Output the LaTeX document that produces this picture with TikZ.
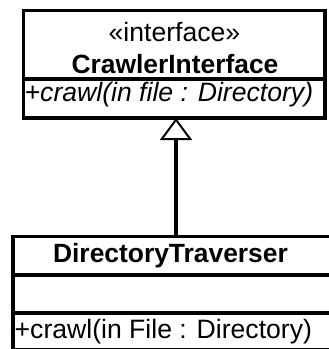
\documentclass[tikz,border=0pt]{standalone}
\usepackage{fontspec}
\setmainfont{Liberation Sans}
\usetikzlibrary{arrows.meta}
\begin{document}
\begin{tikzpicture}[x=1pt, y=-1pt,
  umlbox/.style={draw, line width=3.5pt, inner sep=0pt, outer sep=0pt, anchor=north west},
  compartment/.style={line width=3.5pt},
  txt/.style={inner sep=0pt, font=\fontsize{26.6}{30}\selectfont},
  boldtxt/.style={txt, font=\fontsize{26.4}{30}\selectfont\bfseries},
  realize/.style={line width=4pt,
    -{Triangle[length=22pt, width=32pt, fill=white, line width=2pt]}}
]
\useasboundingbox[fill=white] (0,0) rectangle (329,349);

% interface class
\node[umlbox, minimum width=301.5pt, minimum height=107.5pt] (iface) at (23.5,10.5) {};
\coordinate (ifacesep) at (0,79);
\draw[compartment] (iface.west |- ifacesep) -- (iface.east |- ifacesep);
\node[txt, anchor=base] (stereo) at (174.5,41) {«interface»};
\node[boldtxt, anchor=base] (ifacename) at (175,73) {CrawlerInterface};
\node[txt, anchor=base west] (ifaceop) at (24.5,101) {\itshape +crawl(in file : Directory)};

% implementing class
\node[umlbox, minimum width=318.5pt, minimum height=113pt] (impl) at (13,236.5) {};
\coordinate (implsepa) at (0,275);
\coordinate (implsepb) at (0,313);
\draw[compartment] (impl.west |- implsepa) -- (impl.east |- implsepa);
\draw[compartment] (impl.west |- implsepb) -- (impl.east |- implsepb);
\node[boldtxt, anchor=base] (implname) at (170.5,262) {DirectoryTraverser};
\node[txt, anchor=base west] (implop) at (14.5,338) {+crawl(in File : Directory)};

% realization arrow
\coordinate (realstart) at (176,236.5);
\draw[realize] (realstart) -- (realstart |- iface.south);
\end{tikzpicture}
\end{document}
